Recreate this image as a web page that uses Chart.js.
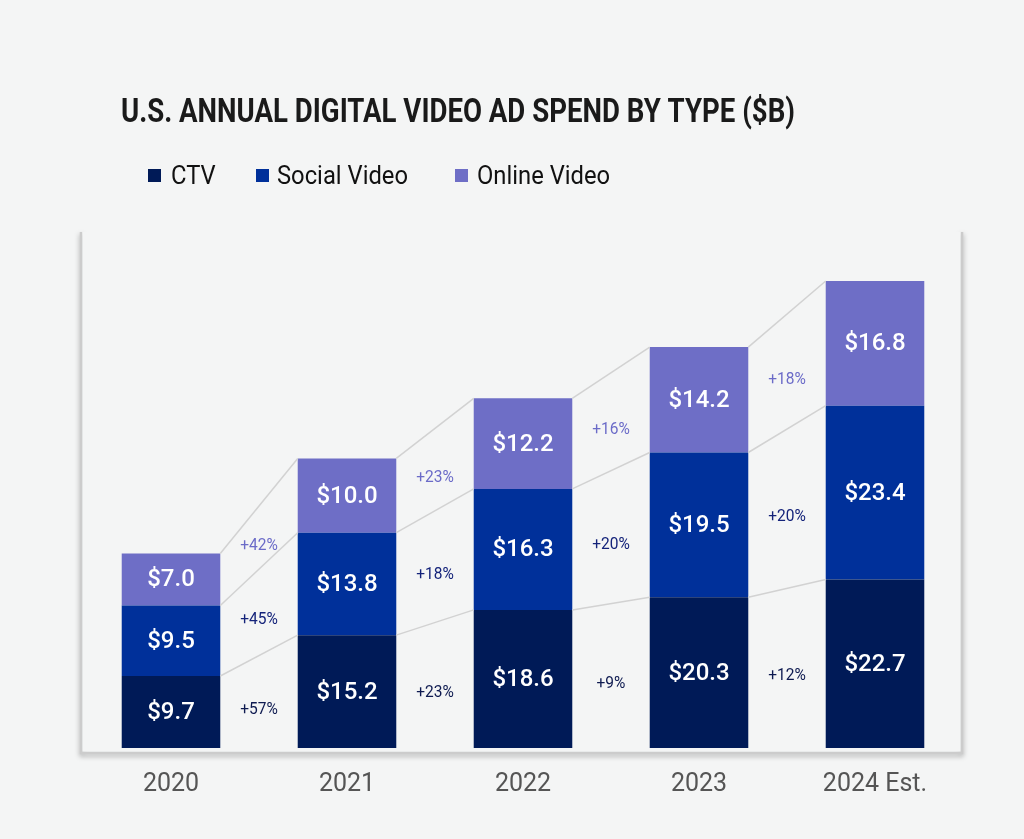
<!DOCTYPE html>
<html>
<head>
<meta charset="utf-8">
<script src="https://cdn.jsdelivr.net/npm/chart.js@4.4.1/dist/chart.umd.min.js"></script>
<style>
  html, body { margin: 0; padding: 0; background: #f4f5f5; }
  #wrap { width: 1024px; height: 839px; }
</style>
</head>
<body>
<div id="wrap"><canvas id="videoChart" width="1024" height="839"></canvas></div>
<script>
// DATA
var years = ['2020', '2021', '2022', '2023', '2024 Est.'];
var seriesNames = ['CTV', 'Social Video', 'Online Video'];
var ctv = [9.7, 15.2, 18.6, 20.3, 22.7];
var social = [9.5, 13.8, 16.3, 19.5, 23.4];
var online = [7.0, 10.0, 12.2, 14.2, 16.8];
// growth labels printed between bars (year over year)
var ctvGrowth = ['+57%', '+23%', '+9%', '+12%'];
var socialGrowth = ['+45%', '+18%', '+20%', '+20%'];
var onlineGrowth = ['+42%', '+23%', '+16%', '+18%'];

var colors = ['#001a57', '#00309a', '#6e6ec6'];
var growthColors = ['#0e1a50', '#14237a', '#6b6bc8'];
var growthLabels = [ctvGrowth, socialGrowth, onlineGrowth];

// condensed text helper: squeeze horizontally
function condensedText(ctx, text, x, y, sx) {
    ctx.save();
    ctx.translate(x, y);
    ctx.scale(sx, 1);
    ctx.fillText(text, 0, 0);
    ctx.restore();
}

var decorPlugin = {
    id: 'decor',
    beforeDraw: function (chart) {
        var ctx = chart.ctx;
        var a = chart.chartArea;
        ctx.save();
        ctx.fillStyle = '#f4f5f5';
        ctx.fillRect(0, 0, chart.width, chart.height);
        // plot box (left, bottom, right edges with soft shadow)
        var l = a.left - 2, r = a.right - 1, t = a.top, b = a.bottom + 5;
        ctx.shadowColor = 'rgba(0,0,0,0.35)';
        ctx.shadowBlur = 5;
        ctx.shadowOffsetY = 2;
        ctx.strokeStyle = '#cccccc';
        ctx.lineWidth = 2.5;
        ctx.beginPath();
        ctx.moveTo(l, t);
        ctx.lineTo(l, b);
        ctx.lineTo(r, b);
        ctx.lineTo(r, t);
        ctx.stroke();
        ctx.shadowColor = 'transparent';
        ctx.fillStyle = '#f4f5f5';
        ctx.fillRect(l + 1.5, t, r - l - 3, b - t - 1.5);
        ctx.restore();
    },
    afterDatasetsDraw: function (chart) {
        var ctx = chart.ctx;
        ctx.save();
        // connector lines and growth labels
        for (var d = 0; d < 3; d++) {
            var bars = chart.getDatasetMeta(d).data;
            for (var i = 0; i < bars.length - 1; i++) {
                var p = bars[i], n = bars[i + 1];
                ctx.strokeStyle = '#d2d2d2';
                ctx.lineWidth = 1.5;
                ctx.beginPath();
                ctx.moveTo(p.x + p.width / 2, p.y);
                ctx.lineTo(n.x - n.width / 2, n.y);
                ctx.stroke();

                var midY = ((p.y + p.base) / 2 + (n.y + n.base) / 2) / 2 + 8;
                ctx.fillStyle = growthColors[d];
                ctx.font = '16.5px Roboto';
                ctx.textAlign = 'center';
                ctx.textBaseline = 'middle';
                condensedText(ctx, growthLabels[d][i], (p.x + n.x) / 2, midY, 0.94);
            }
        }
        // value labels inside segments
        for (var d2 = 0; d2 < 3; d2++) {
            var meta = chart.getDatasetMeta(d2);
            var vals = chart.data.datasets[d2].data;
            meta.data.forEach(function (bar, i) {
                ctx.fillStyle = '#ffffff';
                ctx.font = '500 24px Roboto';
                ctx.textAlign = 'center';
                ctx.textBaseline = 'middle';
                ctx.fillText('$' + vals[i].toFixed(1), bar.x, (bar.y + bar.base) / 2 + 1);
            });
        }
        ctx.restore();
    },
    afterDraw: function (chart) {
        var ctx = chart.ctx;
        ctx.save();
        // title
        var title = 'U.S. ANNUAL DIGITAL VIDEO AD SPEND BY TYPE ($B)';
        ctx.font = 'bold 33px Roboto';
        ctx.fillStyle = '#1a1a1a';
        ctx.textAlign = 'left';
        ctx.textBaseline = 'alphabetic';
        var tw = ctx.measureText(title).width;
        condensedText(ctx, title, 121, 122, 674 / tw);
        // legend
        var markX = [148, 256, 455];
        var textX = [171, 277, 477];
        ctx.font = '26px Roboto';
        var sx = 131 / ctx.measureText(seriesNames[1]).width;
        for (var k = 0; k < seriesNames.length; k++) {
            ctx.fillStyle = colors[k];
            ctx.fillRect(markX[k], 169, 13, 13);
            ctx.fillStyle = '#111111';
            condensedText(ctx, seriesNames[k], textX[k], 184, sx);
        }
        ctx.restore();
    }
};

var ctx = document.getElementById('videoChart');
var videoChart = new Chart(ctx, {
    type: 'bar',
    data: {
        labels: years,
        datasets: [{
            label: seriesNames[0],
            data: ctv,
            backgroundColor: colors[0]
        }, {
            label: seriesNames[1],
            data: social,
            backgroundColor: colors[1]
        }, {
            label: seriesNames[2],
            data: online,
            backgroundColor: colors[2]
        }]
    },
    options: {
        responsive: false,
        animation: false,
        barPercentage: 0.56,
        categoryPercentage: 1.0,
        layout: {
            padding: { left: 83, right: 61, top: 232, bottom: 17 }
        },
        plugins: {
            legend: { display: false },
            title: { display: false },
            tooltip: { enabled: false }
        },
        scales: {
            x: {
                stacked: true,
                grid: { display: false, drawTicks: false, tickLength: 0 },
                border: { display: false },
                ticks: {
                    padding: 22,
                    color: '#555555',
                    font: { family: 'Roboto', size: 25 }
                }
            },
            y: {
                stacked: true,
                display: false,
                min: 0,
                max: 69.5
            }
        }
    },
    plugins: [decorPlugin]
});
</script>
</body>
</html>
